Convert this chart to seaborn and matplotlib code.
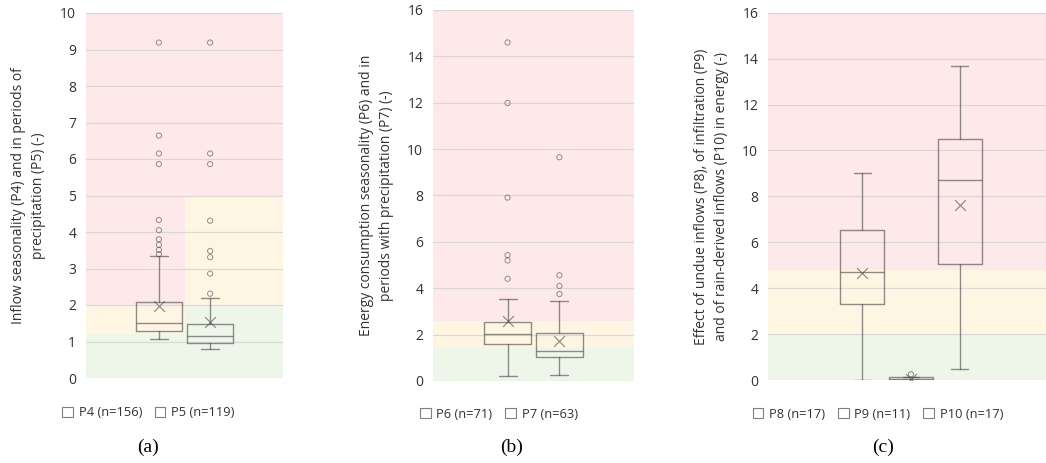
import matplotlib
matplotlib.use("Agg")
import matplotlib.pyplot as plt
from matplotlib.patches import Patch, Rectangle
import pandas as pd
import seaborn as sns

# ---------------- Panel (a): inflow seasonality ----------------
a_names = ["P4", "P5"]
a_n = [156, 119]
a_q1 = [1.29, 0.96]
a_med = [1.52, 1.16]
a_q3 = [2.09, 1.49]
a_lo = [1.06, 0.79]
a_hi = [3.33, 2.19]
a_mean = [1.96, 1.53]
a_out = [[9.19, 6.64, 6.15, 5.86, 4.33, 4.05, 3.80, 3.65, 3.51, 3.39],
         [9.19, 6.15, 5.86, 4.31, 3.48, 3.31, 2.86, 2.31]]
a_green_top = [1.2, 2.0]
a_yellow_top = [2.0, 5.0]
a_ylabel = "Inflow seasonality (P4) and in periods of\nprecipitation (P5) (-)"

# ---------------- Panel (b): energy consumption seasonality ----------------
b_names = ["P6", "P7"]
b_n = [71, 63]
b_q1 = [1.58, 1.02]
b_med = [2.04, 1.31]
b_q3 = [2.56, 2.07]
b_lo = [0.20, 0.27]
b_hi = [3.55, 3.45]
b_mean = [2.59, 1.73]
b_out = [[14.6, 11.99, 7.91, 5.43, 5.20, 4.41],
         [9.65, 4.56, 4.10, 3.75]]
b_green_top = [1.45, 1.45]
b_yellow_top = [2.6, 2.6]
b_ylabel = "Energy consumption seasonality (P6) and in\nperiods with precipitation (P7) (-)"

# ---------------- Panel (c): effect of undue inflows ----------------
c_names = ["P8", "P9", "P10"]
c_n = [17, 11, 17]
c_q1 = [3.30, 0.02, 5.04]
c_med = [4.69, 0.06, 8.71]
c_q3 = [6.53, 0.11, 10.48]
c_lo = [0.0, 0.0, 0.46]
c_hi = [9.03, 0.13, 13.69]
c_mean = [4.65, 0.06, 7.62]
c_out = [[], [0.25], []]
c_green_top = [2.0, 2.0, 2.0]
c_yellow_top = [4.8, 4.8, 4.8]
c_ylabel = "Effect of undue inflows (P8), of infiltration (P9)\nand of rain-derived inflows (P10) in energy (-)"

RED = "#fde9e9"
YELLOW = "#fef5e3"
GREEN = "#eef6e9"
LINE = "#4a4a4a"
LINE_ALPHA = 0.62

sns.set_theme(style="white")
plt.rcParams["font.family"] = ["Open Sans", "DejaVu Sans"]

fig = plt.figure(figsize=(10.46, 4.63), dpi=100)


def draw_panel(rect, names, n, q1, med, q3, lo, hi, mean, out, g_top, y_top,
               ymax, ystep, step, width, ylabel, label_x, legend_xy, caption, cap_xy):
    ax = fig.add_axes(rect)
    k = len(names)
    pos = [(i - (k - 1) / 2) * step for i in range(k)]

    # colour bands per series column (merged where limits coincide)
    edges = [-0.5] + [(pos[i] + pos[i + 1]) / 2 for i in range(k - 1)] + [0.5]
    i = 0
    while i < k:
        j = i
        while j + 1 < k and g_top[j + 1] == g_top[i] and y_top[j + 1] == y_top[i]:
            j += 1
        x0, x1 = edges[i], edges[j + 1]
        for y0, y1, col in [(0, g_top[i], GREEN), (g_top[i], y_top[i], YELLOW),
                            (y_top[i], ymax, RED)]:
            ax.add_patch(Rectangle((x0, y0), x1 - x0, y1 - y0, facecolor=col,
                                   edgecolor="none", zorder=0))
        i = j + 1

    ticks = list(range(0, ymax + 1, ystep))
    for t in ticks:
        ax.axhline(t, color="#cfcfcf", lw=0.9, alpha=0.7, zorder=1)

    stats = [dict(med=med[i], q1=q1[i], q3=q3[i], whislo=lo[i], whishi=hi[i],
                  fliers=[]) for i in range(k)]
    lp = dict(color=LINE, alpha=LINE_ALPHA, lw=1.0)
    ax.bxp(stats, positions=pos, widths=width, capwidths=width * 0.38,
           showfliers=False, boxprops=lp, whiskerprops=lp, capprops=lp,
           medianprops=lp, manage_ticks=False, zorder=3)

    fl = pd.DataFrame({"x": [pos[i] for i in range(k) for _ in out[i]],
                       "y": [v for i in range(k) for v in out[i]]})
    if len(fl):
        sns.scatterplot(data=fl, x="x", y="y", ax=ax, marker="o", s=14,
                        color=LINE, facecolor="none", edgecolor=LINE,
                        linewidth=0.7, alpha=0.6, zorder=4, legend=False)
    mn = pd.DataFrame({"x": pos, "y": mean})
    sns.scatterplot(data=mn, x="x", y="y", ax=ax, marker="x", s=60,
                    color=LINE, linewidth=0.8, alpha=0.65, zorder=4, legend=False)

    ax.set_xlim(-0.5, 0.5)
    ax.set_ylim(0, ymax)
    ax.set_xticks([])
    ax.set_yticks(ticks)
    ax.tick_params(axis="y", length=0, pad=7, labelsize=10, labelcolor="#333333")
    ax.set_xlabel("")
    ax.set_ylabel(ylabel, fontsize=10, color="#333333", linespacing=1.45)
    ax.yaxis.set_label_coords(label_x, 0.5)
    for s in ax.spines.values():
        s.set_visible(False)

    handles = [Patch(facecolor="white", edgecolor="#7f7f7f", lw=0.8) for _ in names]
    labels = [f"{nm} (n={c})" for nm, c in zip(names, n)]
    fig.legend(handles, labels, loc="center", bbox_to_anchor=legend_xy, ncol=k,
               frameon=False, fontsize=9.3, handlelength=0.8, handleheight=0.8,
               handletextpad=0.45, columnspacing=1.0, labelcolor="#333333")
    fig.text(cap_xy[0], cap_xy[1], caption, ha="center", va="center",
             fontsize=14, family="Liberation Serif", color="black")
    return ax


W, H = 1046.0, 463.0
draw_panel([86 / W, (H - 378) / H, 197 / W, 365 / H], a_names, a_n, a_q1, a_med,
           a_q3, a_lo, a_hi, a_mean, a_out, a_green_top, a_yellow_top,
           10, 1, 0.26, 0.234, a_ylabel, -0.203, (148.5 / W, (H - 413) / H),
           "(a)", (148 / W, (H - 447) / H))
draw_panel([433 / W, (H - 381) / H, 201 / W, 371 / H], b_names, b_n, b_q1, b_med,
           b_q3, b_lo, b_hi, b_mean, b_out, b_green_top, b_yellow_top,
           16, 2, 0.258, 0.234, b_ylabel, -0.194, (499 / W, (H - 414) / H),
           "(b)", (512 / W, (H - 447) / H))
draw_panel([768 / W, (H - 380) / H, 286 / W, 367.3 / H], c_names, c_n, c_q1, c_med,
           c_q3, c_lo, c_hi, c_mean, c_out, c_green_top, c_yellow_top,
           16, 2, 0.17, 0.154, c_ylabel, -0.136, (878 / W, (H - 414) / H),
           "(c)", (883 / W, (H - 447) / H))

fig.savefig("out.png", dpi=100)
